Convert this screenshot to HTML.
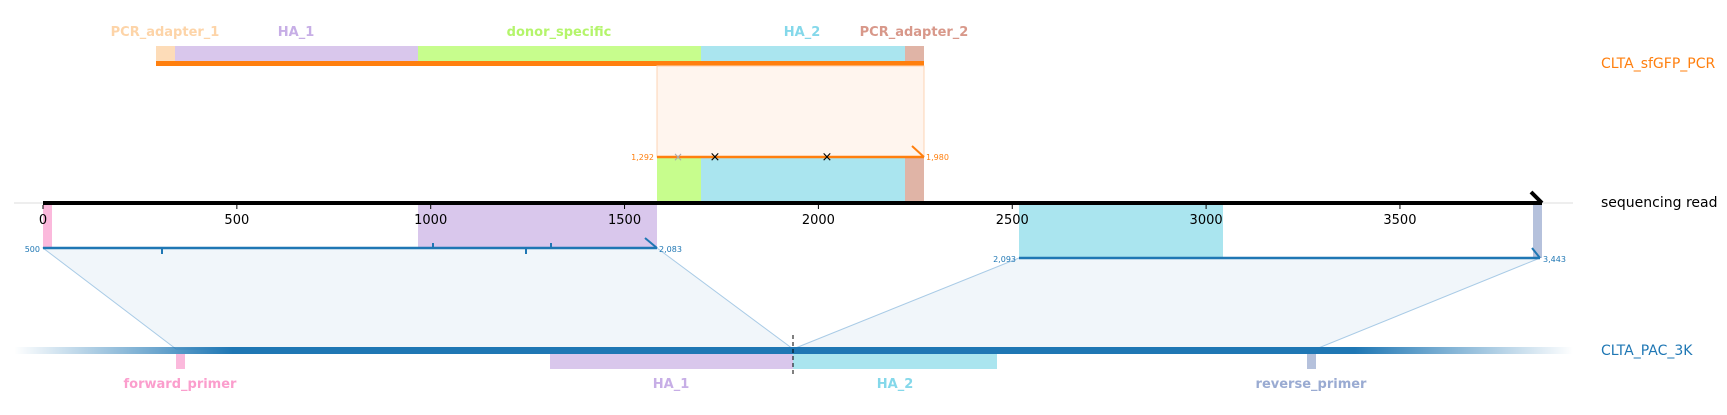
<!DOCTYPE html>
<html><head><meta charset="utf-8"><style>
html,body{margin:0;padding:0;background:#fff;width:1727px;height:415px;overflow:hidden}
svg{display:block;font-family:"DejaVu Sans","Liberation Sans",sans-serif}
</style></head><body>
<svg id="chart" width="1727" height="415" viewBox="0 0 1727 415">
<defs>
<linearGradient id="fade" x1="0" x2="1" y1="0" y2="0">
<stop offset="0" stop-color="#1f77b4" stop-opacity="0"/>
<stop offset="0.14" stop-color="#1f77b4" stop-opacity="1"/>
<stop offset="0.86" stop-color="#1f77b4" stop-opacity="1"/>
<stop offset="1" stop-color="#1f77b4" stop-opacity="0"/>
</linearGradient>
</defs>
<g>
<rect x="156" y="46" width="19" height="15" fill="#fddcb8"/>
<rect x="175" y="46" width="243" height="15" fill="#d9c7ec"/>
<rect x="418" y="46" width="283" height="15" fill="#c7fd8d"/>
<rect x="701" y="46" width="204" height="15" fill="#aae5ef"/>
<rect x="905" y="46" width="19" height="15" fill="#e0b4a6"/>
<rect x="156" y="61" width="768" height="5" fill="#ff7f0e"/>
<text x="165" y="36" fill="#fdd4a8" font-size="13" font-weight="bold" text-anchor="middle">PCR_adapter_1</text>
<text x="296" y="36" fill="#c7aee6" font-size="13" font-weight="bold" text-anchor="middle">HA_1</text>
<text x="559" y="36" fill="#b4f56b" font-size="13" font-weight="bold" text-anchor="middle">donor_specific</text>
<text x="802" y="36" fill="#84d8ea" font-size="13" font-weight="bold" text-anchor="middle">HA_2</text>
<text x="914" y="36" fill="#d8988a" font-size="13" font-weight="bold" text-anchor="middle">PCR_adapter_2</text>
<text x="1601" y="68" fill="#ff7f0e" font-size="14">CLTA_sfGFP_PCR</text>
</g>
<rect x="657" y="66" width="267" height="91" fill="#fff5ee" stroke="#fdd4b4" stroke-width="1"/>
<rect x="657" y="157" width="44" height="46" fill="#c7fd8d"/>
<rect x="701" y="157" width="204" height="46" fill="#aae5ef"/>
<rect x="905" y="157" width="19" height="46" fill="#e0b4a6"/>
<line x1="657" y1="157" x2="924" y2="157" stroke="#ff7f0e" stroke-width="2.5"/>
<line x1="912" y1="146" x2="924" y2="157" stroke="#ff7f0e" stroke-width="2"/>
<text x="654" y="160" fill="#ff7f0e" font-size="8" text-anchor="end">1,292</text>
<text x="926" y="160" fill="#ff7f0e" font-size="8">1,980</text>
<text x="678" y="161" fill="#aaa" font-size="12" text-anchor="middle">×</text>
<text x="715" y="161" fill="#000" font-size="13" text-anchor="middle">×</text>
<text x="827" y="161" fill="#000" font-size="13" text-anchor="middle">×</text>
<rect x="43" y="203" width="9" height="45" fill="#fbb9dc"/>
<rect x="418" y="203" width="239" height="45" fill="#d9c7ec"/>
<rect x="1019" y="203" width="204" height="55" fill="#aae5ef"/>
<rect x="1533" y="203" width="9" height="55" fill="#b5c1dc"/>
<polygon points="43,248 657,248 793,349 176,349" fill="#f1f6fa" stroke="#a9cbe6" stroke-width="1"/>
<polygon points="1019,258 1540,258 1316,349 793,349" fill="#f1f6fa" stroke="#a9cbe6" stroke-width="1"/>
<line x1="43" y1="248" x2="657" y2="248" stroke="#1f77b4" stroke-width="2.5"/>
<line x1="645" y1="238" x2="657" y2="248" stroke="#1f77b4" stroke-width="2"/>
<line x1="162" y1="248" x2="162" y2="254" stroke="#1f77b4" stroke-width="2"/>
<line x1="433" y1="243" x2="433" y2="248" stroke="#1f77b4" stroke-width="2"/>
<line x1="526" y1="248" x2="526" y2="254" stroke="#1f77b4" stroke-width="2"/>
<line x1="551" y1="243" x2="551" y2="248" stroke="#1f77b4" stroke-width="2"/>
<text x="40" y="252" fill="#1f77b4" font-size="8" text-anchor="end">500</text>
<text x="659" y="252" fill="#1f77b4" font-size="8">2,083</text>
<line x1="1019" y1="258" x2="1540" y2="258" stroke="#1f77b4" stroke-width="2.5"/>
<line x1="1532" y1="248" x2="1540" y2="258" stroke="#1f77b4" stroke-width="2"/>
<text x="1016" y="262" fill="#1f77b4" font-size="8" text-anchor="end">2,093</text>
<text x="1543" y="262" fill="#1f77b4" font-size="8">3,443</text>
<line x1="14" y1="203" x2="1573" y2="203" stroke="#ddd" stroke-width="1"/>
<line x1="43" y1="203" x2="1542" y2="203" stroke="#000" stroke-width="4"/>
<polyline points="1531,192 1542,203" fill="none" stroke="#000" stroke-width="4"/>
<g id="ticks"></g>
<text x="1601" y="207" fill="#000" font-size="14">sequencing read</text>
<rect x="14" y="347" width="1559" height="7" fill="url(#fade)"/>
<rect x="176" y="354" width="9" height="15" fill="#fbb9dc"/>
<rect x="550" y="354" width="243" height="15" fill="#d9c7ec"/>
<rect x="793" y="354" width="204" height="15" fill="#aae5ef"/>
<rect x="1307" y="354" width="9" height="15" fill="#b5c1dc"/>
<line x1="793" y1="335" x2="793" y2="375" stroke="#000" stroke-width="1" stroke-dasharray="4,3"/>
<text x="180" y="388" fill="#fb9ecd" font-size="13" font-weight="bold" text-anchor="middle">forward_primer</text>
<text x="671" y="388" fill="#c7aee6" font-size="13" font-weight="bold" text-anchor="middle">HA_1</text>
<text x="895" y="388" fill="#84d8ea" font-size="13" font-weight="bold" text-anchor="middle">HA_2</text>
<text x="1311" y="388" fill="#9aabd2" font-size="13" font-weight="bold" text-anchor="middle">reverse_primer</text>
<text x="1601" y="355" fill="#1f77b4" font-size="14">CLTA_PAC_3K</text>
</svg>
<script>
const tickValues = [0, 500, 1000, 1500, 2000, 2500, 3000, 3500];
const tickLabels = ["0", "500", "1000", "1500", "2000", "2500", "3000", "3500"];
const x0 = 43, pxPerUnit = 0.3877;
function xScale(v){ return x0 + v * pxPerUnit; }
const g = document.getElementById('ticks');
const ns = 'http://www.w3.org/2000/svg';
tickValues.forEach((v, i) => {
  const x = xScale(v);
  const l = document.createElementNS(ns, 'line');
  l.setAttribute('x1', x); l.setAttribute('x2', x);
  l.setAttribute('y1', 205); l.setAttribute('y2', 209);
  l.setAttribute('stroke', '#000');
  
  
  g.appendChild(l);
  const t = document.createElementNS(ns, 'text');
  t.setAttribute('x', x); t.setAttribute('y', 224);
  t.setAttribute('font-size', '13'); t.setAttribute('text-anchor', 'middle');
  t.textContent = tickLabels[i];
  
  
  g.appendChild(t);
});
</script>
</body></html>
